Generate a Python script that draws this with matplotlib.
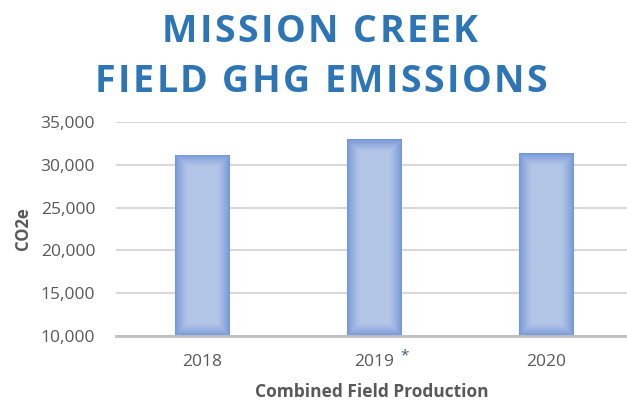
import numpy as np
import matplotlib
matplotlib.use("Agg")
import matplotlib.pyplot as plt
from matplotlib.colors import LinearSegmentedColormap

years = ["2018", "2019", "2020"]
emissions = [31150, 33000, 31350]
notes = ["", "*", ""]
y_ticks = [10000, 15000, 20000, 25000, 30000, 35000]

title_lines = ["MISSION CREEK", "FIELD GHG EMISSIONS"]
x_label = "Combined Field Production"
y_label = "CO2e"

plt.rcParams['font.family'] = ['Open Sans', 'DejaVu Sans']

W, H = 627, 404
fig = plt.figure(figsize=(W / 100, H / 100), dpi=100)
ax = fig.add_axes([0.185, 0.168, 0.815, 0.530])

x = np.arange(len(years))
bars = ax.bar(x, emissions, width=0.314, color="#a9bfe6",
              edgecolor="#dce5f5", linewidth=0.8, zorder=2)

# Excel-ish path gradient: darker edges, lighter middle
cmap = LinearSegmentedColormap.from_list("bargrad", ["#7496d8", "#b4c6e7"])
for b in bars:
    x0, w = b.get_x(), b.get_width()
    y0, h = 10000, b.get_height() - 10000
    nx, ny = 60, 200
    px_w, px_h = 54.0, h / 25000 * 213.0
    u = np.linspace(0, 1, nx)
    v = np.linspace(0, 1, ny)
    dx = np.minimum(u, 1 - u) * px_w
    dy = np.minimum(v, 1 - v) * px_h
    d = np.minimum(dx[None, :], dy[:, None])
    t = np.clip(d / 12.0, 0, 1) ** 0.8
    im = ax.imshow(t, cmap=cmap, extent=[x0, x0 + w, y0, y0 + h],
                   aspect="auto", origin="lower", zorder=3, vmin=0, vmax=1)
    im.set_clip_path(b)

ax.set_xlim(-0.5, 2.47)
ax.set_ylim(10000, 35000)
ax.set_yticks(y_ticks)
ax.set_yticklabels([f"{v:,}" for v in y_ticks])
ax.set_xticks(x)
ax.set_xticklabels(years)

ax.grid(axis="y", color="#d9d9d9", linewidth=1.5, zorder=0)
ax.set_axisbelow(True)
for s in ["top", "right", "left"]:
    ax.spines[s].set_visible(False)
ax.spines["bottom"].set_color("#bfbfbf")
ax.spines["bottom"].set_linewidth(2)
ax.spines["bottom"].set_zorder(4)
ax.tick_params(axis="both", length=0, labelsize=12.5, labelcolor="#595959")
ax.tick_params(axis="y", pad=15)
ax.tick_params(axis="x", pad=13)

for xi, n in zip(x, notes):
    if n:
        ax.annotate(n, xy=(xi, 10000), xytext=(22, -14), textcoords="offset points",
                    ha="center", va="center", fontsize=11, color="#44546a")

ax.set_xlabel(x_label, fontsize=12.5, fontweight="bold", color="#595959", labelpad=9)
ax.set_ylabel(y_label, fontsize=12, fontweight="bold", color="#595959", labelpad=6)


def tracked_line(s, cx, cy, track, **kw):
    # lay out characters one by one to get the wide letter spacing
    r = fig.canvas.get_renderer()

    def width(txt):
        t = fig.text(0, 0, txt + "|", **kw)
        t2 = fig.text(0, 0, "|", **kw)
        w_ = t.get_window_extent(r).width - t2.get_window_extent(r).width
        t.remove()
        t2.remove()
        return w_

    offs = [width(s[:i]) + i * track for i in range(len(s))]
    total = width(s) + (len(s) - 1) * track
    left = cx - total / 2
    for ch, o in zip(s, offs):
        if ch != " ":
            fig.text((left + o) / W, 1 - cy / H, ch, ha="left", va="baseline", **kw)


title_kw = dict(fontsize=27, fontweight="bold", color="#2e75b6")
tracked_line(title_lines[0], 320, 42, 2.4, **title_kw)
tracked_line(title_lines[1], 321, 92, 2.4, **title_kw)

fig.savefig("out.png", dpi=100)
